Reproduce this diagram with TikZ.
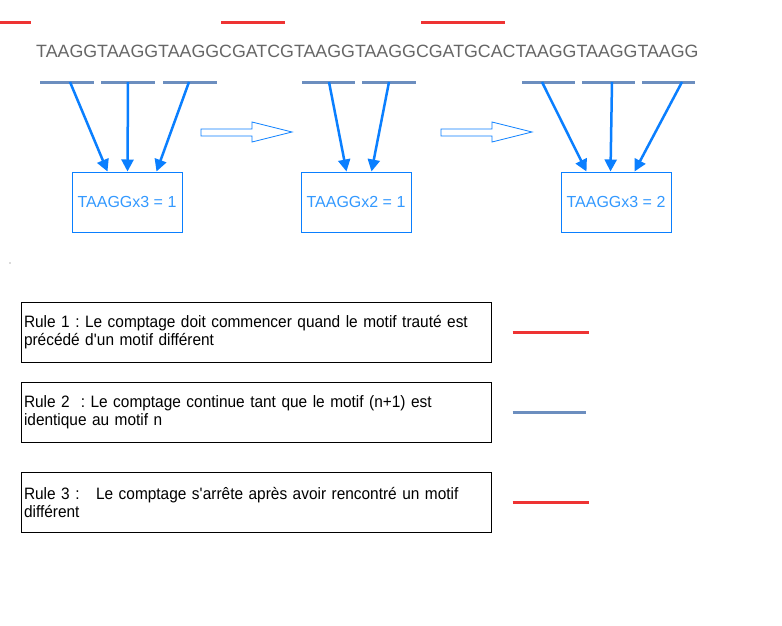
\documentclass[tikz,border=0pt]{standalone}
\usepackage{fontspec}
\setmainfont{Liberation Sans}
\newfontfamily\rulefont{Liberation Sans}[FakeStretch=0.935]
\usetikzlibrary{arrows.meta,calc}
\definecolor{seqgray}{HTML}{666666}
\definecolor{motifred}{HTML}{EE3333}
\definecolor{motifblue}{HTML}{6C8EBF}
\definecolor{arrowblue}{HTML}{0A7FFF}
\definecolor{textblue}{HTML}{3399FF}
\frenchspacing
\tikzset{
	redbar/.style={motifred,line width=3pt},
	bluebar/.style={motifblue,line width=3pt},
	countarrow/.style={arrowblue,line width=2.5pt,-{Triangle[length=12pt,width=12pt]}},
	countbox/.style={draw=arrowblue,line width=1pt,minimum width=110pt,minimum height=60pt,inner sep=0pt,text=textblue,font=\fontsize{16}{18}\selectfont},
	rulebox/.style={draw,line width=1pt,minimum width=470pt,minimum height=60pt,text width=464pt,inner sep=3pt,align=left,font=\rulefont\fontsize{16.5}{18}\selectfont},
	flowarrow/.style={draw=arrowblue,line width=0.8pt}
}
\begin{document}
\begin{tikzpicture}[x=1pt,y=-1pt]
	\useasboundingbox[fill=white] (0,0) rectangle (782,625);
	\node[anchor=west,inner sep=0pt,text=seqgray,font=\fontsize{17.8}{20}\selectfont] (seq) at (36,51) {TAAGGTAAGGTAAGGCGATCGTAAGGTAAGGCGATGCACTAAGGTAAGGTAAGG};
	\foreach \xa/\xb in {0/31,221/285,421/505}
	\draw[redbar] (\xa,22) -- (\xb,22);
	\foreach \xa/\xb in {40/94,101/155,163/217,302/355,362/416,522/575,582/635,642/695}
	\draw[bluebar] (\xa,82) -- (\xb,82);
	\node[countbox] (box1) at (127,202) {TAAGGx3 = 1};
	\node[countbox] (box2) at (356,202) {TAAGGx2 = 1};
	\node[countbox] (box3) at (616,202) {TAAGGx3 = 2};
	\foreach \x [count=\i] in {70,128,189,329,389,542,612,682}
	\coordinate (m\i) at (\x,82);
	\foreach \i/\b/\dx in {1/1/36,2/1/56,3/1/85,4/2/46,5/2/71,6/3/26,7/3/50,8/3/74}
	\draw[countarrow] (m\i) -- ($(box\b.north west)+(\dx,0)$);
	\foreach \s in {0,240}
	\draw[flowarrow,shift={(\s,0)}] (201,129) -- (252,129) -- (252,122) -- (292,132) -- (252,142) -- (252,136) -- (201,136) -- cycle;
	\fill[seqgray] (10,263) circle (0.7);
	\node[rulebox] (rule1) at (256,332) {Rule 1 : Le comptage doit commencer quand le motif trauté est\\précédé d\textquotesingle un motif différent};
	\node[rulebox] (rule2) at (256,412) {Rule 2 \ : Le comptage continue tant que le motif (n+1) est\\identique au motif n};
	\node[rulebox] (rule3) at (256,502) {Rule 3 : \ \ Le comptage s\textquotesingle arrête après avoir rencontré un motif\\différent};
	\draw[redbar] ($(rule1.east)+(21,0)$) -- +(76,0);
	\draw[bluebar] ($(rule2.east)+(21,0)$) -- +(73,0);
	\draw[redbar] ($(rule3.east)+(21,0)$) -- +(76,0);
\end{tikzpicture}
\end{document}
